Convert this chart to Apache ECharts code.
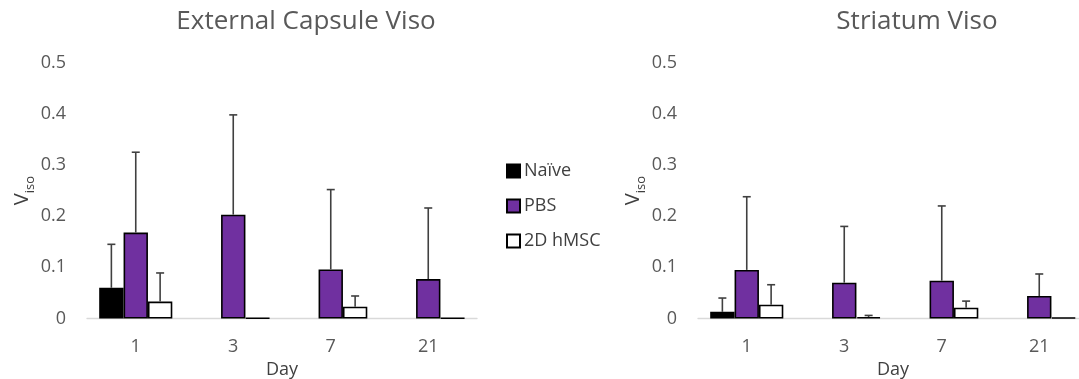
<!DOCTYPE html>
<html>
<head>
<meta charset="utf-8">
<script src="https://cdn.jsdelivr.net/npm/echarts@6/dist/echarts.min.js"></script>
<style>
html,body{margin:0;padding:0;background:#fff;}
#chart{width:1079px;height:379px;}
</style>
</head>
<body>
<div id="chart"></div>
<script>
// ---- data ----
const days = ['1', '3', '7', '21'];
const seriesNames = ['Naïve', 'PBS', '2D hMSC'];
const titleLeft = 'External Capsule Viso';
const titleRight = 'Striatum Viso';

// External Capsule (left)
const ecNaive = [0.060, null, null, null];
const ecNaiveErr = [0.085, null, null, null];
const ecPBS = [0.168, 0.203, 0.096, 0.077];
const ecPBSErr = [0.157, 0.195, 0.156, 0.139];
const ecHMSC = [0.033, 0.001, 0.023, 0.001];
const ecHMSCErr = [0.056, null, 0.021, null];

// Striatum (right)
const stNaive = [0.013, null, null, null];
const stNaiveErr = [0.027, null, null, null];
const stPBS = [0.095, 0.070, 0.074, 0.044];
const stPBSErr = [0.143, 0.110, 0.146, 0.043];
const stHMSC = [0.027, 0.003, 0.021, 0.002];
const stHMSCErr = [0.039, 0.003, 0.013, null];

const yTicks = { min: 0, max: 0.5, interval: 0.1 };

// ---- styles ----
const FONT = '"Open Sans", "DejaVu Sans", sans-serif';
const fills = ['#000000', '#7030A0', '#ffffff'];
const GAP = 0.25;

const chart = echarts.init(document.getElementById('chart'));

function errSeries(gridIdx, slot, means, errs) {
  const data = [];
  means.forEach((m, i) => {
    if (m != null && errs[i] != null) data.push([i, m, errs[i]]);
  });
  return {
    type: 'custom',
    xAxisIndex: gridIdx, yAxisIndex: gridIdx,
    z: 5,
    silent: true,
    encode: { x: 0, y: 1 },
    data: data,
    renderItem: function (params, api) {
      const c = api.value(0), m = api.value(1), e = api.value(2);
      const base = api.coord([c, m]);
      const top = api.coord([c, m + e]);
      const band = api.size([1, 0])[0];
      const bw = band * (1 - GAP) / 3;
      const x = base[0] + (slot - 1) * bw;
      const capHalf = 4;
      const style = { stroke: '#404040', lineWidth: 1.6 };
      return {
        type: 'group',
        children: [
          { type: 'line', shape: { x1: x, y1: base[1], x2: x, y2: top[1] }, style: style },
          { type: 'line', shape: { x1: x - capHalf, y1: top[1], x2: x + capHalf, y2: top[1] }, style: style }
        ]
      };
    }
  };
}

function barSeries(gridIdx, slot, vals) {
  return {
    name: seriesNames[slot],
    type: 'bar',
    xAxisIndex: gridIdx, yAxisIndex: gridIdx,
    data: vals,
    barGap: '0%',
    barCategoryGap: (GAP * 100) + '%',
    itemStyle: { color: fills[slot], borderColor: '#000', borderWidth: 1.6 },
    emphasis: { disabled: true },
    z: 3
  };
}

function xAxis(gridIdx) {
  return {
    type: 'category', gridIndex: gridIdx, data: days,
    axisTick: { show: false },
    axisLine: { lineStyle: { color: '#d9d9d9', width: 1.3 } },
    axisLabel: { color: '#595959', fontSize: 18, fontFamily: FONT, margin: 19 },
    name: 'Day', nameLocation: 'middle', nameGap: 36,
    nameTextStyle: { color: '#404040', fontSize: 18, fontFamily: FONT }
  };
}

function yAxis(gridIdx) {
  return {
    type: 'value', gridIndex: gridIdx,
    min: yTicks.min, max: yTicks.max, interval: yTicks.interval,
    splitLine: { show: false },
    axisLine: { show: false }, axisTick: { show: false },
    axisLabel: { color: '#595959', fontSize: 18, fontFamily: FONT, margin: 21 },
    name: '{v|V}{s|iso}', nameLocation: 'middle', nameRotate: 90, nameGap: 53,
    nameTextStyle: {
      color: '#404040', fontFamily: FONT,
      rich: {
        v: { fontSize: 20, color: '#404040', fontFamily: FONT, lineHeight: 22, verticalAlign: 'bottom' },
        s: { fontSize: 13, color: '#404040', fontFamily: FONT, lineHeight: 22, verticalAlign: 'bottom', padding: [0, 0, -4, 0] }
      }
    }
  };
}

chart.setOption({
  animation: false,
  backgroundColor: '#fff',
  title: [
    { text: titleLeft, left: 301, top: 4, textAlign: 'center',
      textStyle: { color: '#595959', fontSize: 26, fontWeight: 'normal', fontFamily: FONT } },
    { text: titleRight, left: 912, top: 4, textAlign: 'center',
      textStyle: { color: '#595959', fontSize: 26, fontWeight: 'normal', fontFamily: FONT } }
  ],
  legend: {
    data: seriesNames,
    orient: 'vertical',
    left: 506, top: 162, padding: 0,
    itemWidth: 13, itemHeight: 13, itemGap: 17,
    icon: 'rect',
    textStyle: { color: '#404040', fontSize: 18, fontFamily: FONT, padding: [0, 0, 0, -1] },
    selectedMode: false
  },
  grid: [
    { left: 87, top: 62.7, width: 390, height: 255.8, containLabel: false, outerBoundsMode: 'none' },
    { left: 698, top: 62.7, width: 390, height: 255.8, containLabel: false, outerBoundsMode: 'none' }
  ],
  xAxis: [xAxis(0), xAxis(1)],
  yAxis: [yAxis(0), yAxis(1)],
  series: [
    barSeries(0, 0, ecNaive), barSeries(0, 1, ecPBS), barSeries(0, 2, ecHMSC),
    barSeries(1, 0, stNaive), barSeries(1, 1, stPBS), barSeries(1, 2, stHMSC),
    errSeries(0, 0, ecNaive, ecNaiveErr), errSeries(0, 1, ecPBS, ecPBSErr), errSeries(0, 2, ecHMSC, ecHMSCErr),
    errSeries(1, 0, stNaive, stNaiveErr), errSeries(1, 1, stPBS, stPBSErr), errSeries(1, 2, stHMSC, stHMSCErr)
  ]
});
</script>
</body>
</html>
